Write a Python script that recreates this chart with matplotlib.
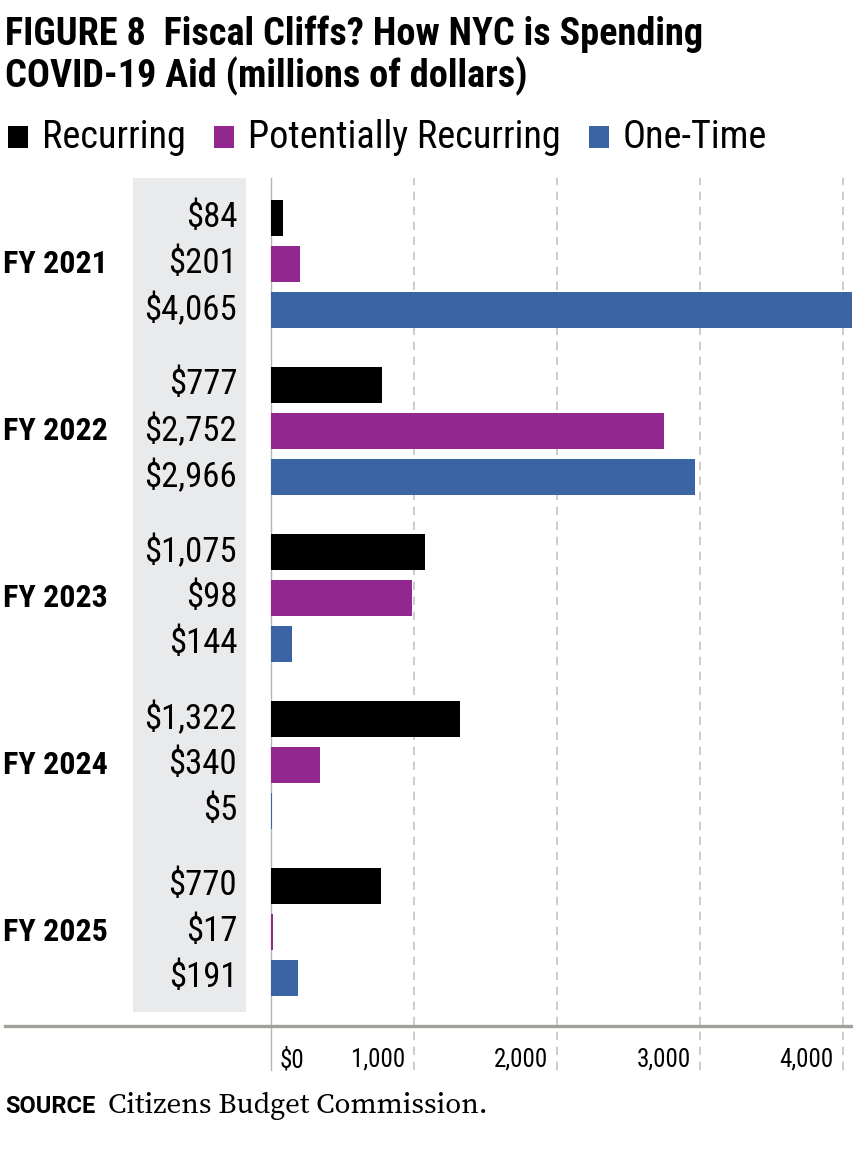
import matplotlib
matplotlib.use("Agg")
import matplotlib.pyplot as plt
from matplotlib.patches import Rectangle
from matplotlib.lines import Line2D
from matplotlib.transforms import ScaledTranslation

plt.rcParams['font.family'] = ['Roboto Condensed', 'DejaVu Sans']

years = ['FY 2021', 'FY 2022', 'FY 2023', 'FY 2024', 'FY 2025']
series = ['Recurring', 'Potentially Recurring', 'One-Time']
colors = ['#000000', '#92278F', '#3A64A3']

recurring = [84, 777, 1075, 1322, 770]
potential = [201, 2752, 98, 340, 17]
one_time = [4065, 2966, 144, 5, 191]
# the source draws the FY 2023 "$98" bar out to roughly 985
potential_drawn = [201, 2752, 985, 340, 17]

labels = [recurring, potential, one_time]
drawn = [recurring, potential_drawn, one_time]

xticks = [0, 1000, 2000, 3000, 4000]
xtick_labels = ['$0', '1,000', '2,000', '3,000', '4,000']

W, H = 854, 1155
fig = plt.figure(figsize=(W / 100, H / 100), dpi=100)


def fx(px):
    return px / W


def fy(py):
    return 1 - py / H


ax = fig.add_axes([fx(271), fy(1070), 1 - fx(271), (1070 - 178) / H])

step = 3.63
for s in range(3):
    ys = [g * step + s for g in range(len(years))]
    ax.barh(ys, drawn[s], height=0.8, color=colors[s], zorder=3)
    for y, v in zip(ys, labels[s]):
        ax.text(-0.058, y, f'${v:,}', transform=ax.get_yaxis_transform(),
                ha='right', va='center', fontsize=25, zorder=4)

for g, yr in enumerate(years):
    ax.text(-0.28, g * step + 1, yr, transform=ax.get_yaxis_transform(),
            ha='right', va='center', fontsize=23, fontweight='bold')

ax.set_ylim((1070 - 218) / 46, (178 - 218) / 46)
ax.set_xlim(0, 4080)

band = Rectangle((-0.2367, (178 - 218) / 46), 0.1938, (1012 - 178) / 46,
                 transform=ax.get_yaxis_transform(), facecolor='#E9EAEC',
                 edgecolor='none', clip_on=False, zorder=0)
ax.add_patch(band)

ax.set_yticks([])
ax.set_xticks(xticks)
ax.set_xticklabels(xtick_labels, fontsize=18)
ax.tick_params(axis='x', length=0, pad=-16)
for i, lab in enumerate(ax.get_xticklabels()):
    if i == 0:
        lab.set_ha('left')
        lab.set_transform(lab.get_transform() + ScaledTranslation(0.09, 0, fig.dpi_scale_trans))
    else:
        lab.set_ha('right')
        lab.set_transform(lab.get_transform() + ScaledTranslation(-0.09, 0, fig.dpi_scale_trans))

ax.grid(axis='x', linestyle=(0, (5, 4)), color='#C4C4C4', linewidth=1.2, zorder=1)
for sp in ['top', 'right', 'bottom']:
    ax.spines[sp].set_visible(False)
ax.spines['left'].set_color('#B5B5B5')
ax.spines['left'].set_linewidth(1)
ax.spines['left'].set_zorder(2)

fig.add_artist(Line2D([fx(5), 1], [fy(1026), fy(1026)], color='#A0A09A',
                      linewidth=2.4, transform=fig.transFigure))

# title
fig.text(fx(5), fy(45), 'FIGURE 8  Fiscal Cliffs? How NYC is Spending',
         fontsize=27.5, fontweight='bold', va='baseline')
fig.text(fx(5), fy(87), 'COVID-19 Aid (millions of dollars)',
         fontsize=27.5, fontweight='bold', va='baseline')

# legend
fig.canvas.draw()
renderer = fig.canvas.get_renderer()
x = 8
for name, c in zip(series, colors):
    fig.add_artist(Rectangle((fx(x), fy(148)), 20 / W, 22 / H, transform=fig.transFigure,
                             facecolor=c, edgecolor='none'))
    t = fig.text(fx(x + 34), fy(148), name, fontsize=27.5, va='baseline')
    bb = t.get_window_extent(renderer)
    x = bb.x1 + 28

# source
t = fig.text(fx(5), fy(1113), 'SOURCE', fontsize=17, fontweight='bold',
             family=['Roboto', 'DejaVu Sans'], va='baseline')
bb = t.get_window_extent(renderer)
fig.text(fx(bb.x1 + 13), fy(1113), 'Citizens Budget Commission.', fontsize=21,
         family=['Source Serif 4', 'DejaVu Serif'], va='baseline')

fig.savefig('out.png', dpi=100)
